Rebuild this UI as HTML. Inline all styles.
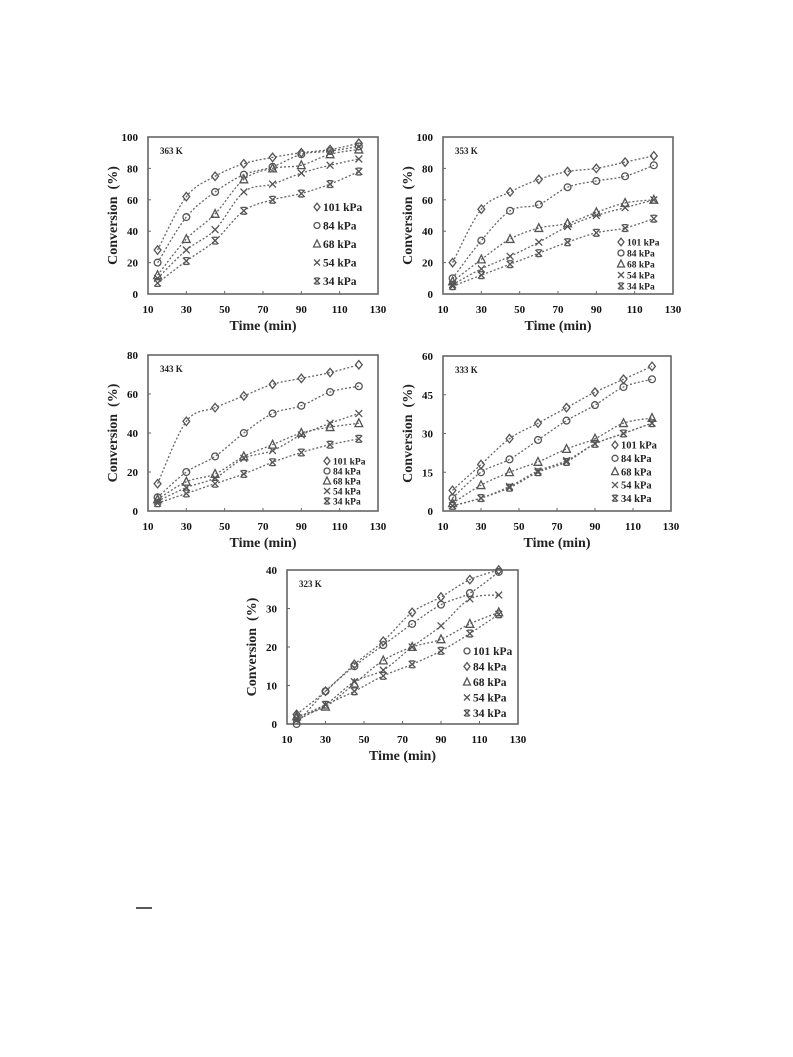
<!DOCTYPE html>
<html><head><meta charset="utf-8"><style>
html,body{margin:0;padding:0;background:#fff;width:793px;height:1057px;overflow:hidden}
svg{display:block;font-family:"Liberation Serif",serif;font-weight:bold}
</style></head><body>
<svg id="fig" width="793" height="1057" viewBox="0 0 793 1057" xmlns="http://www.w3.org/2000/svg">
<rect x="0" y="0" width="793" height="1057" fill="#fff"/>
<line x1="136" y1="908" x2="152" y2="908" stroke="#222" stroke-width="1.5"/>
</svg>
<script>
const xTimes = [15,30,45,60,75,90,105,120];
const xTicks = [10,30,50,70,90,110,130];
const seriesLabels = ["101 kPa","84 kPa","68 kPa","54 kPa","34 kPa"];
// 363 K
const d363_101 = [28,62,75,83,87,90,92,96];
const d363_84 = [20,49,65,76,81,89,91,94];
const d363_68 = [12,35,51,73,80,82,89,92];
const d363_54 = [10,28,41,65,70,77,82,86];
const d363_34 = [7,21,34,53,60,64,70,78];
// 353 K
const d353_101 = [20,54,65,73,78,80,84,88];
const d353_84 = [10,34,53,57,68,72,75,82];
const d353_68 = [8,22,35,42,45,52,58,60];
const d353_54 = [6,16,24,33,43,50,55,60];
const d353_34 = [5,12,19,26,33,39,42,48];
// 343 K
const d343_101 = [14,46,53,59,65,68,71,75];
const d343_84 = [7,20,28,40,50,54,61,64];
const d343_68 = [6,15,19,28,34,40,43,45];
const d343_54 = [5,12,17,27,31,39,45,50];
const d343_34 = [4,9,14,19,25,30,34,37];
// 333 K
const d333_101 = [8,18,28,34,40,46,51,56];
const d333_84 = [5,15,20,27.5,35,41,48,51];
const d333_68 = [3,10,15,19,24,28,34,36];
const d333_54 = [2,5,9.5,15.5,19.5,26,30,34];
const d333_34 = [2,5,9,15,19,26,30,34];
// 323 K
const d323_101 = [0,8.5,15,20.5,26,31,34,39.5];
const d323_84 = [2.5,8.5,15.5,21.5,29,33,37.5,40];
const d323_68 = [2,4.5,10.5,16.5,20,22,26,29];
const d323_54 = [1,5,11,14,20,25.5,32.5,33.5];
const d323_34 = [1.5,5,8.5,12.5,15.5,19,23.5,28.5];
const yTicks363 = [0,20,40,60,80,100];
const yTicks343 = [0,20,40,60,80];
const yTicks333 = [0,15,30,45,60];
const yTicks323 = [0,10,20,30,40];

const NS="http://www.w3.org/2000/svg";
const svg=document.getElementById('fig');
function mk(tag,attrs,parent){const e=document.createElementNS(NS,tag);for(const k in attrs)e.setAttribute(k,attrs[k]);(parent||svg).appendChild(e);return e;}

const panels=[
 {id:"363",T:"363 K",L:148,R:378,Tp:137,B:294,ymax:100,yt:yTicks363,data:[d363_101,d363_84,d363_68,d363_54,d363_34],mk:["diamond","circle","triangle","x","star"],lg:{x:317,y:207,dy:18.5,fs:11.5}},
 {id:"353",T:"353 K",L:443,R:673,Tp:137,B:294,ymax:100,yt:yTicks363,data:[d353_101,d353_84,d353_68,d353_54,d353_34],mk:["diamond","circle","triangle","x","star"],lg:{x:621,y:242,dy:11,fs:9.5}},
 {id:"343",T:"343 K",L:148,R:378,Tp:355,B:511,ymax:80,yt:yTicks343,data:[d343_101,d343_84,d343_68,d343_54,d343_34],mk:["diamond","circle","triangle","x","star"],lg:{x:327,y:461,dy:10,fs:9.5}},
 {id:"333",T:"333 K",L:443,R:671,Tp:356,B:511,ymax:60,yt:yTicks333,data:[d333_101,d333_84,d333_68,d333_54,d333_34],mk:["diamond","circle","triangle","x","star"],lg:{x:615,y:445,dy:13.3,fs:10.5}},
 {id:"323",T:"323 K",L:287,R:518,Tp:570,B:724,ymax:40,yt:yTicks323,data:[d323_101,d323_84,d323_68,d323_54,d323_34],mk:["circle","diamond","triangle","x","star"],lg:{x:467,y:651,dy:15.5,fs:11.5}}
];

function marker(g,type,cx,cy,r){
 const st={fill:"none",stroke:"#555","stroke-width":1.3};
 if(type==="circle") mk('circle',Object.assign({cx:cx,cy:cy,r:r},st),g);
 else if(type==="diamond") mk('polygon',Object.assign({points:`${cx},${cy-r-0.8} ${cx+r},${cy} ${cx},${cy+r+0.8} ${cx-r},${cy}`},st),g);
 else if(type==="triangle") mk('polygon',Object.assign({points:`${cx},${cy-r-1} ${cx+r+0.5},${cy+r} ${cx-r-0.5},${cy+r}`},st),g);
 else if(type==="x") mk('path',Object.assign({d:`M${cx-r},${cy-r}L${cx+r},${cy+r}M${cx+r},${cy-r}L${cx-r},${cy+r}`},st),g);
 else mk('path',Object.assign({d:`M${cx-r},${cy-r}L${cx+r},${cy+r}M${cx+r},${cy-r}L${cx-r},${cy+r}M${cx-r*0.7},${cy-r}L${cx+r*0.7},${cy-r}M${cx-r*0.7},${cy+r}L${cx+r*0.7},${cy+r}`},st),g);
}

function curve(pts){
 let d=`M${pts[0][0]},${pts[0][1]}`;
 for(let i=0;i<pts.length-1;i++){
  const p0=pts[Math.max(0,i-1)],p1=pts[i],p2=pts[i+1],p3=pts[Math.min(pts.length-1,i+2)];
  const c1x=p1[0]+(p2[0]-p0[0])/6,c1y=p1[1]+(p2[1]-p0[1])/6;
  const c2x=p2[0]-(p3[0]-p1[0])/6,c2y=p2[1]-(p3[1]-p1[1])/6;
  d+=`C${c1x},${c1y} ${c2x},${c2y} ${p2[0]},${p2[1]}`;
 }
 return d;
}

panels.forEach(p=>{
 const g=mk('g',{});
 
 
 const xs=v=>p.L+(v-10)/120*(p.R-p.L);
 const ys=v=>p.B-v/p.ymax*(p.B-p.Tp);
 const frame=mk('rect',{x:p.L,y:p.Tp,width:p.R-p.L,height:p.B-p.Tp,fill:"none",stroke:"#666","stroke-width":1.6},g);
 
 
 xTicks.forEach(t=>{
  mk('line',{x1:xs(t),y1:p.B,x2:xs(t),y2:p.B-3,stroke:"#666"},g);
  const tx=mk('text',{x:xs(t),y:p.B+19,"text-anchor":"middle","font-size":11,fill:"#111"},g);
  tx.textContent=t;
  
  
 });
 p.yt.forEach(t=>{
  mk('line',{x1:p.L,y1:ys(t),x2:p.L+3,y2:ys(t),stroke:"#666"},g);
  const ty=mk('text',{x:p.L-10,y:ys(t)+4,"text-anchor":"end","font-size":11,fill:"#111"},g);
  ty.textContent=t;
  
  
 });
 const xt=mk('text',{x:(p.L+p.R)/2,y:p.B+36,"text-anchor":"middle","font-size":14,fill:"#222","xml:space":"preserve"},g);
 xt.textContent="Time  (min)";
 
 
 const ymid=(p.Tp+p.B)/2, yx=p.L-31;
 const yt=mk('text',{x:yx,y:ymid,"text-anchor":"middle","font-size":14,fill:"#222",transform:`rotate(-90 ${yx} ${ymid})`},g);
 yt.textContent="Conversion\u00a0\u00a0(%)";
 
 
 const tl=mk('text',{x:p.L+12,y:p.Tp+17,"font-size":9,fill:"#222"},g);
 tl.textContent=p.T;
 
 
 p.data.forEach((vals,si)=>{
  const pts=vals.map((v,i)=>[xs(xTimes[i]),ys(v)]);
  const c=mk('path',{d:curve(pts),fill:"none",stroke:"#666","stroke-width":1.3,"stroke-dasharray":"2,2"},g);
  
  
  pts.forEach(pt=>marker(g,p.mk[si],pt[0],pt[1],3.4));
  const ly=p.lg.y+si*p.lg.dy;
  const le=mk('g',{},g);
  
  
  marker(le,p.mk[si],p.lg.x,ly,3);
  const lt=mk('text',{x:p.lg.x+6,y:ly+p.lg.fs*0.35,"font-size":p.lg.fs,fill:"#222"},le);
  lt.textContent=seriesLabels[si];
 });
});
</script>
</body></html>
